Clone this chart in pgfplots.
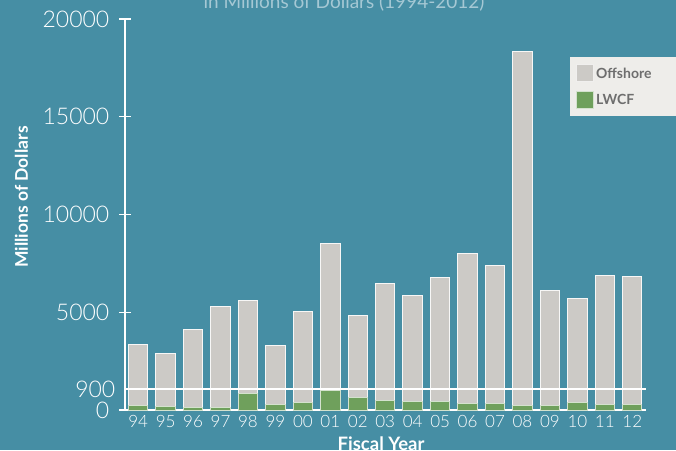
\documentclass[border=0pt]{standalone}
\usepackage{pgfplots}
\pgfplotsset{compat=1.18}
\usepackage{fontspec}
\setmainfont{Lato}
\IfFontExistsTF{Lato Light}{\newfontfamily\lightfont{Lato Light}}{\newfontfamily\lightfont{Lato}}
\definecolor{bgc}{RGB}{70,142,164}
\definecolor{offc}{RGB}{204,202,198}
\definecolor{lwcfc}{RGB}{111,160,92}
\definecolor{legbg}{RGB}{238,237,234}
\definecolor{legtxt}{RGB}{110,110,110}
\definecolor{titc}{RGB}{165,200,212}
\pgfplotsset{
  base/.style={
    at={(AO)}, anchor=south west,
    scale only axis, width=521pt, height=391pt,
    xmin=-0.48, xmax=18.5, ymin=0,
    scaled y ticks=false,
    bar width=19.4pt,
    xtick=\empty,
    tick align=inside, major tick length=12pt,
    yticklabel style={anchor=east, xshift=-9.5pt, inner sep=0pt, text=white, font=\lightfont\fontsize{23}{27}\selectfont},
  }
}
\begin{document}
\begin{tikzpicture}
\useasboundingbox (0pt,0pt) rectangle (676pt,450pt);
\clip (0pt,0pt) rectangle (676pt,450pt);
\fill[bgc] (0pt,0pt) rectangle (676pt,450pt);
\node[anchor=base, text=titc, font=\fontsize{19}{22}\selectfont, inner sep=0pt] at (344pt,441.5pt) {in Millions of Dollars (1994-2012)};
\node[anchor=base, text=white, font=\bfseries\fontsize{18.5}{21}\selectfont, inner sep=0pt] at (381pt,-0.5pt) {Fiscal Year};
\node[rotate=90, text=white, font=\bfseries\fontsize{17.5}{20}\selectfont, inner sep=0pt] at (21.5pt,253pt) {Millions of Dollars};
\coordinate (AO) at (125pt,40pt);
% upper scale: Offshore revenue
\begin{axis}[
  base, ymax=20000,
  axis x line=bottom, axis y line=left,
  axis line style={-, white},
  x axis line style={line width=2pt},
  y axis line style={line width=1.5pt},
  xtick={0,...,18},
  xticklabels={94,95,96,97,98,99,00,01,02,03,04,05,06,07,08,09,10,11,12},
  ytick={0,5000,10000,15000,20000},
  yticklabels={0,5000,10000,15000,20000},
  major x tick style={draw=none},
  major y tick style={white, line width=1.2pt},
  xticklabel style={anchor=base, yshift=-11pt, inner sep=0pt, text=white, font=\lightfont\fontsize{17}{20}\selectfont},
  legend style={at={(0.854,0.903)}, anchor=north west, fill=legbg, draw=none,
    font=\bfseries\fontsize{14}{16}\selectfont, text=legtxt,
    inner xsep=6pt, inner ysep=7pt, row sep=9pt},
  legend cell align=left,
]
\addplot[ybar, bar shift=0pt, fill=offc, draw=white!85!offc, line width=1pt,
  legend image code/.code={\draw[fill=offc, draw=white!70!offc, line width=1pt] (0pt,-8pt) rectangle (17pt,9pt);}]
  coordinates {(0,3345) (1,2884) (2,4098) (3,5292) (4,5584) (5,3279) (6,5020) (7,8504) (8,4816) (9,6486) (10,5840) (11,6793) (12,7992) (13,7408) (14,18340) (15,6096) (16,5717) (17,6865) (18,6850)};
\addlegendentry{Offshore\hspace*{30pt}}
\addlegendimage{legend image code/.code={\draw[fill=lwcfc, draw=white!70!lwcfc, line width=1pt] (0pt,-8pt) rectangle (17pt,9pt);}}
\addlegendentry{LWCF}
\end{axis}
% lower (broken) scale: LWCF appropriations, 0-900
\begin{axis}[
  base, ymax=16918,
  axis line style={draw=none},
  ytick={900}, yticklabels={900},
  major y tick style={draw=none},
]
\addplot[ybar, bar shift=0pt, fill=lwcfc, draw=white!70!lwcfc, line width=1pt]
  coordinates {(0,195) (1,150) (2,100) (3,100) (4,720) (5,230) (6,345) (7,850) (8,530) (9,400) (10,375) (11,360) (12,290) (13,290) (14,200) (15,185) (16,345) (17,245) (18,245)};
\addplot[sharp plot, no marks, white, line width=2pt] coordinates {(-0.48,900) (18.5,900)};
\end{axis}
\end{tikzpicture}
\end{document}
